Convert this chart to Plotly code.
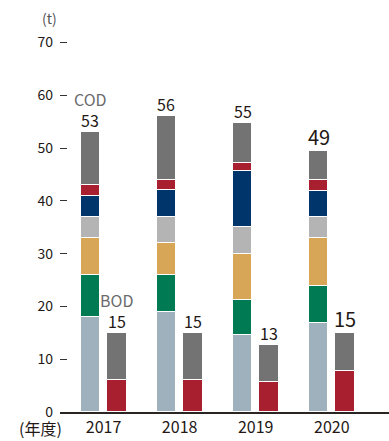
import plotly.graph_objects as go

# Fiscal years
years = ["2017", "2018", "2019", "2020"]

# COD load by component (t), stacked bottom to top
cod_lightblue = [18.0, 19.0, 14.6, 16.9]
cod_green = [8.0, 7.0, 6.7, 7.0]
cod_orange = [7.0, 6.0, 8.7, 9.0]
cod_lightgray = [4.0, 5.0, 5.0, 4.0]
cod_navy = [4.0, 5.0, 10.7, 5.0]
cod_red = [2.0, 2.0, 1.5, 2.0]
cod_gray = [10.0, 12.0, 7.6, 5.5]

# BOD load by component (t), stacked bottom to top
bod_red = [6.0, 6.0, 5.7, 7.8]
bod_gray = [9.0, 9.0, 7.0, 7.2]

y_ticks = [0, 10, 20, 30, 40, 50, 60, 70]

FONT = "Noto Sans CJK JP"
TEXT = "#231815"

cod_layers = [
    ("COD-1", cod_lightblue, "#9fb1bc"),
    ("COD-2", cod_green, "#007a52"),
    ("COD-3", cod_orange, "#d8a657"),
    ("COD-4", cod_lightgray, "#b4b4b4"),
    ("COD-5", cod_navy, "#00356b"),
    ("COD-6", cod_red, "#a8202f"),
    ("COD-7", cod_gray, "#737373"),
]
bod_layers = [
    ("BOD-1", bod_red, "#a8202f"),
    ("BOD-2", bod_gray, "#737373"),
]

idx = list(range(len(years)))
offset = 0.174
bar_w = 0.256
x_cod = [i - offset for i in idx]
x_bod = [i + offset for i in idx]

fig = go.Figure()
for name, vals, color in cod_layers:
    fig.add_trace(go.Bar(x=x_cod, y=vals, width=bar_w, name=name,
                         marker=dict(color=color, line=dict(color="white", width=1)),
                         showlegend=False, hoverinfo="skip"))
for name, vals, color in bod_layers:
    fig.add_trace(go.Bar(x=x_bod, y=vals, width=bar_w, name=name,
                         marker=dict(color=color, line=dict(color="white", width=1)),
                         showlegend=False, hoverinfo="skip"))

cod_total = [sum(layer[1][i] for layer in cod_layers) for i in idx]
bod_total = [sum(layer[1][i] for layer in bod_layers) for i in idx]

annotations = []
for i in idx:
    size = 20 if i == len(years) - 1 else 16
    annotations.append(dict(x=x_cod[i], y=cod_total[i], xref="x", yref="y",
                            text=f"{round(cod_total[i])}", showarrow=False,
                            yanchor="bottom", yshift=-2,
                            font=dict(family=FONT, size=size, color=TEXT)))
    annotations.append(dict(x=x_bod[i], y=bod_total[i], xref="x", yref="y",
                            text=f"{round(bod_total[i])}", showarrow=False,
                            yanchor="bottom", yshift=-2,
                            font=dict(family=FONT, size=size, color=TEXT)))

# series captions above the first pair of bars
annotations.append(dict(x=x_cod[0], y=cod_total[0], xref="x", yref="y", text="COD",
                        showarrow=False, yanchor="bottom", yshift=20, borderpad=0,
                        font=dict(family=FONT, size=16, color="#6b6b6b")))
annotations.append(dict(x=x_bod[0], y=bod_total[0], xref="x", yref="y", text="BOD",
                        showarrow=False, yanchor="bottom", yshift=20, borderpad=0,
                        font=dict(family=FONT, size=16, color="#6b6b6b")))

# unit and axis captions
annotations.append(dict(x=-0.033, y=1.0, xref="paper", yref="paper", text="(t)",
                        showarrow=False, xanchor="center", yanchor="middle", yshift=-2,
                        font=dict(family=FONT, size=14, color="#555555")))
annotations.append(dict(x=0.009, y=0, xref="paper", yref="paper", text="(年度)",
                        showarrow=False, xanchor="right", yanchor="top", yshift=-3,
                        borderpad=0,
                        font=dict(family=FONT, size=16, color=TEXT)))

fig.update_layout(
    width=389, height=441,
    margin=dict(l=60, r=0, t=16, b=29),
    barmode="relative",
    bargap=0,
    plot_bgcolor="white", paper_bgcolor="white",
    font=dict(family=FONT, color=TEXT),
    annotations=annotations,
    xaxis=dict(range=[-0.572, 3.751], tickvals=idx, ticktext=years,
               showgrid=False, zeroline=False, showline=True,
               linecolor="#2b2522", linewidth=2, ticks="",
               tickfont=dict(family=FONT, size=16, color=TEXT)),
    yaxis=dict(range=[0, 75], tickvals=y_ticks, ticktext=[str(v) for v in y_ticks],
               showgrid=False, zeroline=False, showline=False,
               ticks="inside", ticklen=7, tickwidth=1.3, tickcolor="#333333",
               ticklabelstandoff=6,
               tickfont=dict(family=FONT, size=14, color=TEXT)),
)

fig.write_html("out.html")
